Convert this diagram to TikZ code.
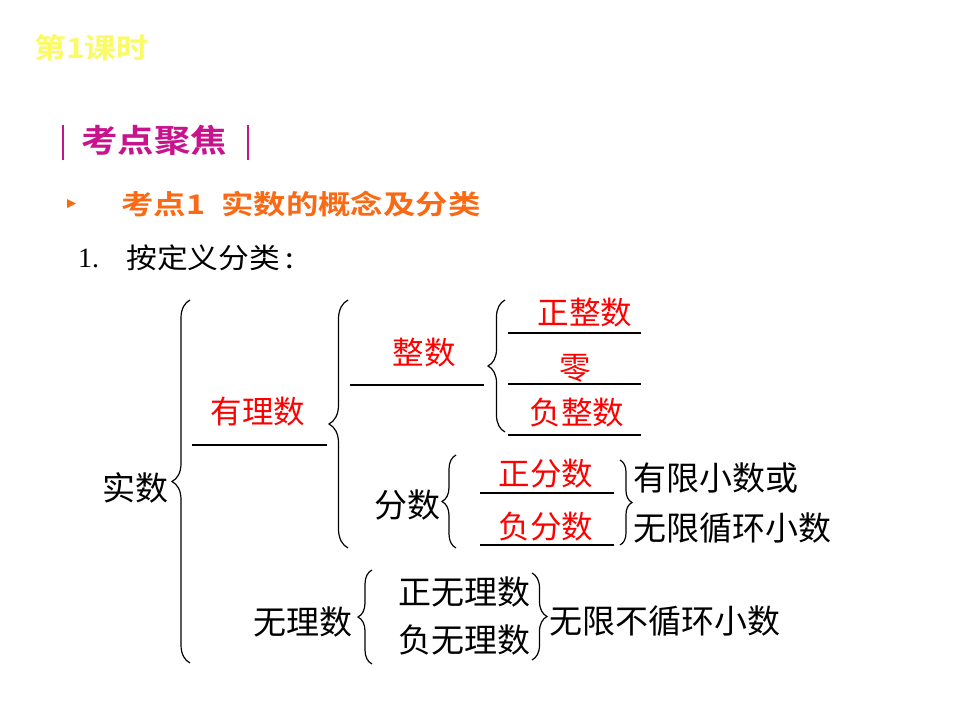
\documentclass[tikz,border=0pt]{standalone}
\usepackage{fontspec}
\setmainfont{Liberation Serif}
\newfontfamily\cjk[BoldFont={Noto Sans CJK SC Bold}]{Noto Sans CJK SC}
\newfontfamily\cjkwide[FakeStretch=1.14]{Noto Sans CJK SC Bold}
\newfontfamily\cjkwider[FakeStretch=1.2]{Noto Sans CJK SC Bold}
\newfontfamily\cjkwidetxt[FakeStretch=1.1]{Noto Sans CJK SC}
\usetikzlibrary{decorations.pathreplacing}
\definecolor{titley}{RGB}{250,250,100}
\definecolor{magc}{RGB}{200,20,140}
\definecolor{orc}{RGB}{250,105,20}
\definecolor{redc}{RGB}{255,0,0}
\begin{document}
\begin{tikzpicture}[x=1pt,y=-1pt,
  txt/.style={inner sep=0pt, font=\cjk\fontsize{33}{33}\selectfont},
  rtxt/.style={inner sep=0pt, text=redc, font=\cjk\fontsize{31.5}{31.5}\selectfont},
  ul/.style={line width=2pt},
  brc/.style={decorate, decoration={brace, amplitude=#1}, line width=1.2pt}
]
\useasboundingbox[fill=white] (0,0) rectangle (960,720);
% header
\node[inner sep=0pt, anchor=west, text=titley, font=\cjkwide\fontsize{28}{28}\selectfont] (t1) at (34,48) {第1课时};
\draw[magc, line width=2pt] (63,125) -- (63,160);
\draw[magc, line width=2pt] (248,125) -- (248,160);
\node[inner sep=0pt, text=magc, font=\cjkwide\fontsize{32}{32}\selectfont] (t2) at (154,140) {考点聚焦};
\fill[orc] (67,199) -- (76,203.5) -- (67,208) -- cycle;
\node[inner sep=0pt, anchor=west, text=orc, font=\cjkwider\fontsize{27}{27}\selectfont] (t3) at (121,204) {考点1\hspace{0.6em}实数的概念及分类};
\node[inner sep=0pt, anchor=west, font=\fontsize{28}{28}\selectfont] (n1) at (78,258) {1.};
\node[inner sep=0pt, anchor=west, font=\cjkwidetxt\fontsize{28}{28}\selectfont] (t4) at (126,258) {按定义分类\hspace{0.2em}:};
% diagram
\node[txt] (ss) at (135,488) {实数};
\node[rtxt] (yl) at (258,412) {有理数};
\draw[ul] (192,445) -- (327,445);
\node[rtxt] (zs) at (424,353) {整数};
\draw[ul] (350,385) -- (484,385);
\node[rtxt] (zzs) at (585,313) {正整数};
\draw[line width=1.5pt] (508,333) -- (641,333);
\node[rtxt] (ling) at (575,368) {零};
\draw[line width=2.5pt] (508,384) -- (641,384);
\node[rtxt] (fzs) at (577,413) {负整数};
\draw[line width=1.5pt] (508,435) -- (641,435);
\node[txt] (fs) at (407,505) {分数};
\node[rtxt] (zfs) at (546,474) {正分数};
\draw[ul] (480,493) -- (614,493);
\node[rtxt] (ffs) at (546,527) {负分数};
\draw[ul] (480,545) -- (614,545);
\node[txt, anchor=west] (yx) at (633,478) {有限小数或};
\node[txt, anchor=west] (wx) at (633,528) {无限循环小数};
\node[txt] (wl) at (303,622) {无理数};
\node[txt] (zw) at (464,592) {正无理数};
\node[txt] (fw) at (464,640) {负无理数};
\node[txt, anchor=west] (wb) at (549,621) {无限不循环小数};
% braces
\draw[brc=18pt] (190,663) -- (190,300);
\draw[brc=19pt] (348,548) -- (348,300);
\draw[brc=17pt] (505,432) -- (505,300);
\draw[brc=14pt] (456,548) -- (456,455);
\draw[brc=12pt] (620,460) -- (620,545);
\draw[brc=14pt] (372,664) -- (372,570);
\draw[brc=15pt] (532,573) -- (532,660);
\end{tikzpicture}
\end{document}
